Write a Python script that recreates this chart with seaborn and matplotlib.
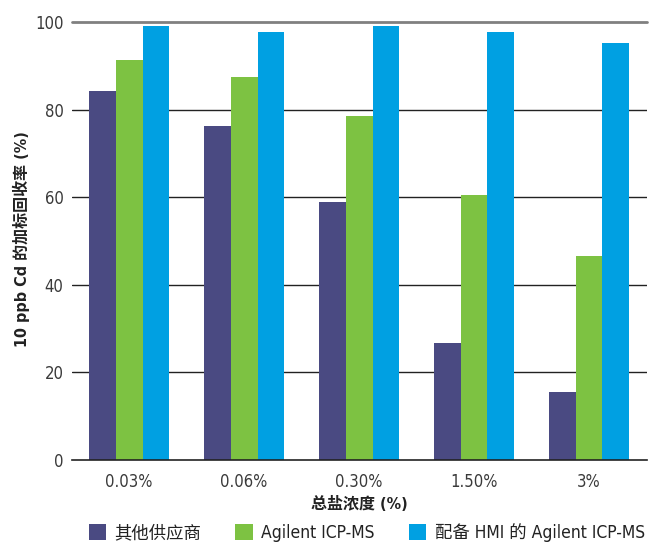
import matplotlib
matplotlib.use("Agg")
import matplotlib.pyplot as plt
import seaborn as sns
import pandas as pd
from matplotlib.patches import Patch

categories = ["0.03%", "0.06%", "0.30%", "1.50%", "3%"]
series_names = ["其他供应商", "Agilent ICP-MS", "配备 HMI 的 Agilent ICP-MS"]
other_vendor = [84.3, 76.3, 59.0, 26.7, 15.5]
agilent = [91.4, 87.5, 78.6, 60.6, 46.6]
agilent_hmi = [99.0, 97.8, 99.0, 97.8, 95.3]
colors = ["#4a4a82", "#7dc242", "#00a0e2"]
yticks = [0, 20, 40, 60, 80, 100]

rows = []
for name, vals in zip(series_names, [other_vendor, agilent, agilent_hmi]):
    for c, v in zip(categories, vals):
        rows.append({"cat": c, "series": name, "value": v})
df = pd.DataFrame(rows)

sns.set_theme(style="white")
fams = ["DejaVu Sans", "Noto Sans CJK SC"]
plt.rcParams["font.family"] = fams
plt.rcParams["font.stretch"] = "condensed"

fig = plt.figure(figsize=(6.52, 5.46), dpi=100)
ax = fig.add_axes([0.110, 0.1575, 0.8816, 0.8022])

sns.barplot(data=df, x="cat", y="value", hue="series", order=categories,
            hue_order=series_names, palette=colors, width=0.70, saturation=1,
            dodge=True, ax=ax, legend=False, linewidth=0, errorbar=None)

ax.set_xlim(-0.5, 4.5)
ax.set_ylim(0, 100)
ax.set_yticks(yticks)
for y in yticks[1:-1]:
    ax.axhline(y, color="#222222", lw=1.0, zorder=0)
ax.axhline(100, color="#808080", lw=2.0, zorder=0, clip_on=False)
for s in ["top", "right", "left"]:
    ax.spines[s].set_visible(False)
ax.spines["bottom"].set_color("#222222")
ax.spines["bottom"].set_linewidth(1.2)

txt = "#3a3a3a"
ax.tick_params(axis="both", length=0, labelsize=12, labelcolor=txt)
ax.tick_params(axis="x", pad=9)
ax.tick_params(axis="y", pad=6)
ax.set_xlabel("总盐浓度 (%)", fontsize=11.5, fontweight="bold", color="#222222", labelpad=4)
ax.set_ylabel("10 ppb Cd 的加标回收率 (%)", fontsize=11.5, fontweight="bold", color="#222222")
ax.yaxis.set_label_coords(-0.073, 0.505)

handles = [Patch(facecolor=c, edgecolor="none") for c in colors]
fig.legend(handles, series_names, loc="lower left", bbox_to_anchor=(0.112, -0.021),
           ncol=3, frameon=False, fontsize=12.5, handlelength=1.0, handleheight=1.0,
           handletextpad=0.5, columnspacing=1.95, labelcolor="#222222")

fig.savefig("out.png", dpi=100)
